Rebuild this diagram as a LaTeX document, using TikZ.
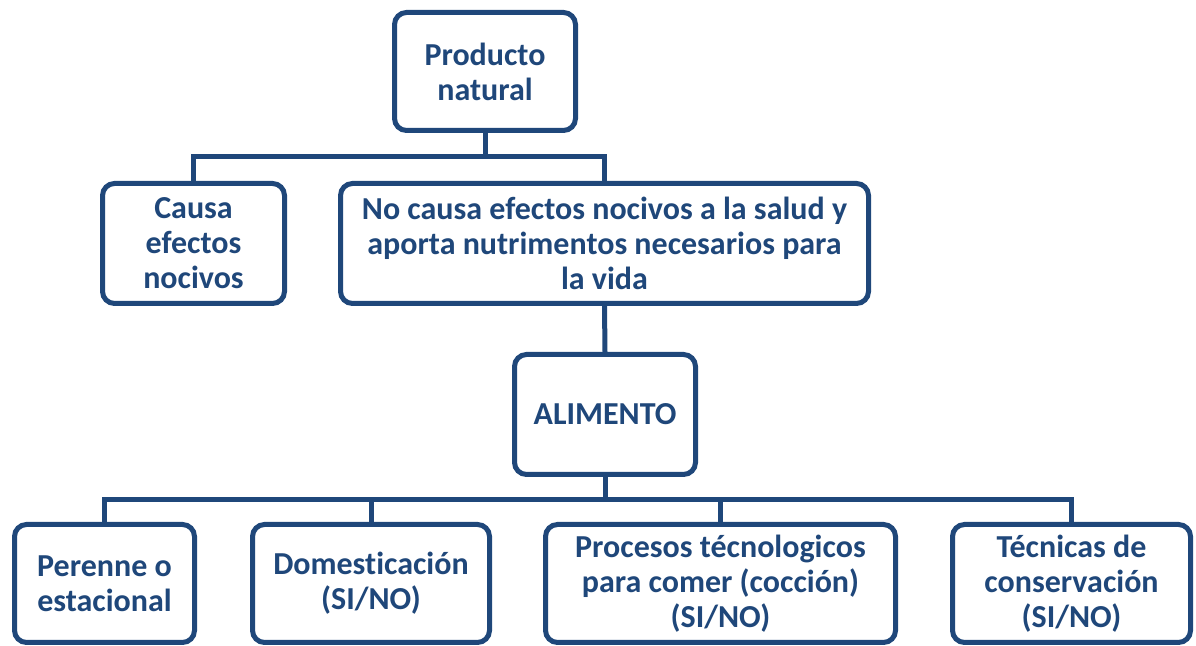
\documentclass[tikz,border=0pt]{standalone}
\usepackage{fontspec}
\setmainfont{Carlito}[Ligatures={NoCommon}]
\usetikzlibrary{calc}
\definecolor{azul}{RGB}{31,71,122}

\begin{document}
\begin{tikzpicture}[x=0.5pt,y=-0.5pt,line width=2.5pt,
    caja/.style={draw=azul,rounded corners=6pt,fill=white,align=center,inner sep=0pt,
        text=azul,font=\fontsize{16}{17.5}\selectfont\bfseries},
    linea/.style={draw=azul,line width=2.5pt}]
    \useasboundingbox (0,0) rectangle (1196,646);
    % nivel 1
    \node[caja,minimum width=90.5pt,minimum height=59pt] (prod) at (485,71.5) {Producto\\natural};
    % nivel 2
    \node[caja,minimum width=91pt,minimum height=60pt] (causa) at (193.5,243.5) {Causa\\efectos\\nocivos};
    \node[caja,minimum width=264pt,minimum height=60pt] (nocausa) at (604.5,243.5)
        {No causa efectos nocivos a la salud y\\aporta nutrimentos necesarios para\\la vida};
    % nivel 3
    \node[caja,minimum width=90.5pt,minimum height=60pt] (alim) at (605,414.5) {ALIMENTO};
    % nivel 4
    \node[caja,minimum width=90pt,minimum height=59pt] (per) at (104.5,583.5) {Perenne o\\estacional};
    \node[caja,minimum width=118.5pt,minimum height=59pt] (dom) at (371,583.5) {Domesticación\\(SI/NO)};
    \node[caja,minimum width=175pt,minimum height=59pt] (proc) at (720.5,583.5)
        {Procesos técnologicos\\para comer (cocción)\\(SI/NO)};
    \node[caja,minimum width=119pt,minimum height=59pt] (tec) at (1071.5,583.5)
        {Técnicas de\\conservación\\(SI/NO)};
    % conectores
    \coordinate (b1) at (485,157);
    \coordinate (b2) at (605,500);
    \draw[linea] (prod.south) -- (b1);
    \draw[linea] (causa.north) |- (b1) -| (nocausa.north);
    \draw[linea] (nocausa.south) -- (alim.north);
    \draw[linea] (alim.south) -- (b2);
    \draw[linea] (per.north) |- (b2) -| (tec.north);
    \draw[linea] (dom.north) -- (dom.north |- b2);
    \draw[linea] (proc.north) -- (proc.north |- b2);
\end{tikzpicture}
\end{document}
